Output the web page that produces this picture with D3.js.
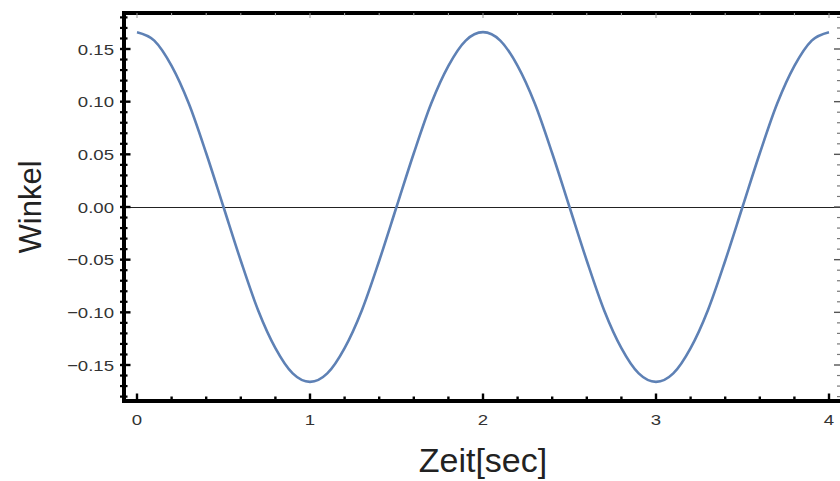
<!DOCTYPE html>
<html><head><meta charset="utf-8">
<script src="https://cdn.jsdelivr.net/npm/d3@7"></script>
<style>body{margin:0;background:#fff}svg{display:block}</style>
</head><body><svg id="c" width="840" height="481"></svg>
<script>
// time in seconds
const times = [0,0.1,0.2,0.3,0.4,0.5,0.6,0.7,0.8,0.9,1.0,1.1,1.2,1.3,1.4,1.5,1.6,1.7,1.8,1.9,2.0,
  2.1,2.2,2.3,2.4,2.5,2.6,2.7,2.8,2.9,3.0,3.1,3.2,3.3,3.4,3.5,3.6,3.7,3.8,3.9,4.0];
// angle (Winkel)
const angles = [0.166,0.158,0.134,0.098,0.051,0.000,-0.051,-0.098,-0.134,-0.158,-0.166,
  -0.158,-0.134,-0.098,-0.051,0.000,0.051,0.098,0.134,0.158,0.166,
  0.158,0.134,0.098,0.051,0.000,-0.051,-0.098,-0.134,-0.158,-0.166,
  -0.158,-0.134,-0.098,-0.051,0.000,0.051,0.098,0.134,0.158,0.166];
const xTicks = [0,1,2,3,4];
const xMinor = [0.2,0.4,0.6,0.8,1.2,1.4,1.6,1.8,2.2,2.4,2.6,2.8,3.2,3.4,3.6,3.8];
const yTicks = [-0.15,-0.10,-0.05,0.00,0.05,0.10,0.15];
const yTickLabels = ["\u22120.15","\u22120.10","\u22120.05","0.00","0.05","0.10","0.15"];
const xLabel = "Zeit[sec]";
const yLabel = "Winkel";

const svg = d3.select("#c");
const x = d3.scaleLinear().domain([0,4]).range([137,829]);
const y = d3.scaleLinear().domain([-0.15,0.15]).range([365,49]);
const fx0 = x.invert(124), fx1 = x.invert(845);
const fy0 = y.invert(401), fy1 = y.invert(13);

// zero line
svg.append("line").attr("x1",x(fx0)).attr("x2",x(fx1)).attr("y1",y(0)+0.5).attr("y2",y(0)+0.5)
  .attr("stroke","#222").attr("stroke-width",1);

// curve
const data = times.map((t,i)=>({t, v: angles[i]}));
svg.append("path").datum(data)
  .attr("fill","none").attr("stroke","#5e81b5").attr("stroke-width",2.6)
  .attr("d", d3.line().x(d=>x(d.t)).y(d=>y(d.v)).curve(d3.curveMonotoneX));

// frame
svg.append("rect").attr("x",x(fx0)).attr("y",y(fy1)).attr("width",x(fx1)-x(fx0)).attr("height",y(fy0)-y(fy1))
  .attr("fill","none").attr("stroke","#000").attr("stroke-width",4);

// y minor ticks (every 0.01)
const yMinor = d3.range(-18,19).map(k=>k/100).filter(v=>!yTicks.some(t=>Math.abs(t-v)<1e-9));
const tk = svg.append("g").attr("stroke","#000");
yMinor.forEach(v=>{
  tk.append("line").attr("x1",x(fx0)-4).attr("x2",x(fx0)+3.5).attr("y1",y(v)).attr("y2",y(v)).attr("stroke-width",2.2);
  tk.append("line").attr("x1",x(fx1)).attr("x2",x(fx1)-8).attr("y1",y(v)).attr("y2",y(v)).attr("stroke-width",1.2).attr("stroke","#777");
});
yTicks.forEach(v=>{
  tk.append("line").attr("x1",x(fx0)-4).attr("x2",x(fx0)+6.5).attr("y1",y(v)).attr("y2",y(v)).attr("stroke-width",2.4);
  tk.append("line").attr("x1",x(fx1)).attr("x2",x(fx1)-11).attr("y1",y(v)).attr("y2",y(v)).attr("stroke-width",1.4).attr("stroke","#555");
});
xMinor.forEach(v=>{
  tk.append("line").attr("x1",x(v)).attr("x2",x(v)).attr("y1",y(fy0)).attr("y2",y(fy0)-4.5).attr("stroke-width",2.4);
  tk.append("line").attr("x1",x(v)).attr("x2",x(v)).attr("y1",y(fy1)).attr("y2",y(fy1)+2.5).attr("stroke-width",1).attr("stroke","#aaa");
});
xTicks.forEach(v=>{
  tk.append("line").attr("x1",x(v)).attr("x2",x(v)).attr("y1",y(fy0)).attr("y2",y(fy0)-7.5).attr("stroke-width",2.4);
  tk.append("line").attr("x1",x(v)).attr("x2",x(v)).attr("y1",y(fy1)).attr("y2",y(fy1)+5).attr("stroke-width",1).attr("stroke","#999");
});

// tick labels
const font = "'Liberation Sans', Arial, sans-serif";
yTicks.forEach((v,i)=>{
  svg.append("text").attr("transform",`translate(114,${y(v)+5.5}) scale(1.2,1)`)
    .attr("text-anchor","end").attr("font-family",font).attr("font-size",15.5).attr("fill","#333")
    .text(yTickLabels[i]);
});
xTicks.forEach(v=>{
  svg.append("text").attr("transform",`translate(${x(v)},${y(fy0)+24}) scale(1.2,1)`)
    .attr("text-anchor","middle").attr("font-family",font).attr("font-size",15.5).attr("fill","#333")
    .text(d3.format("d")(v));
});

// axis titles
svg.append("text").attr("x",483).attr("y",472).attr("text-anchor","middle")
  .attr("font-family",font).attr("font-size",34).attr("fill","#222").text(xLabel);
svg.append("text").attr("transform",`translate(41,${y(0)}) rotate(-90)`).attr("text-anchor","middle")
  .attr("font-family",font).attr("font-size",31).attr("fill","#222").text(yLabel);
</script></body></html>
